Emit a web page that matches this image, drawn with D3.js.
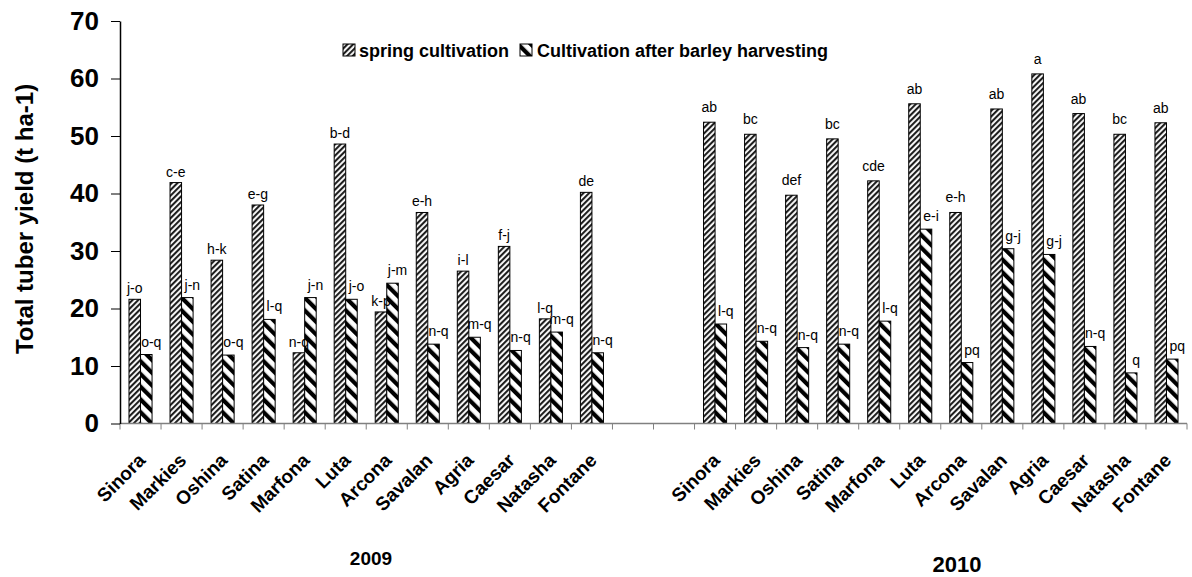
<!DOCTYPE html>
<html>
<head>
<meta charset="utf-8">
<script src="https://cdn.jsdelivr.net/npm/d3@7"></script>
<style>
  html, body { margin: 0; padding: 0; background: #fff; }
  svg { display: block; font-family: "Liberation Sans", Arial, sans-serif; }
</style>
</head>
<body>
<svg id="chart" width="1192" height="577"></svg>
<script>
// ---------- DATA ----------
const varieties = ["Sinora","Markies","Oshina","Satina","Marfona","Luta","Arcona","Savalan","Agria","Caesar","Natasha","Fontane"];
const years = ["2009","2010"];
const seriesNames = ["spring cultivation","Cultivation after barley harvesting"];

const spring2009 = [21.6, 41.9, 28.4, 38.0, 12.3, 48.6, 19.4, 36.7, 26.5, 30.8, 18.2, 40.2];
const after2009  = [12.0, 21.9, 11.9, 18.1, 21.9, 21.6, 24.4, 13.8, 15.0, 12.7, 15.9, 12.3];
const spring2010 = [52.4, 50.3, 39.7, 49.5, 42.2, 55.6, 36.7, 54.7, 60.8, 53.9, 50.3, 52.3];
const after2010  = [17.3, 14.3, 13.2, 13.8, 17.8, 33.8, 10.6, 30.4, 29.4, 13.4,  8.8, 11.2];

const springLetters2009 = ["j-o","c-e","h-k","e-g","n-q","b-d","k-p","e-h","i-l","f-j","l-q","de"];
const afterLetters2009  = ["o-q","j-n","o-q","l-q","j-n","j-o","j-m","n-q","m-q","n-q","m-q","n-q"];
const springLetters2010 = ["ab","bc","def","bc","cde","ab","e-h","ab","a","ab","bc","ab"];
const afterLetters2010  = ["l-q","n-q","n-q","n-q","l-q","e-i","pq","g-j","g-j","n-q","q","pq"];

const yTicks = [0, 10, 20, 30, 40, 50, 60, 70];
const yTitle = "Total tuber yield (t ha-1)";

// ---------- BUILD ROWS ----------
const rows = [];
varieties.forEach((v, i) => rows.push({key: "2009-" + v, name: v, year: "2009",
  vals: [{s: 0, v: spring2009[i], t: springLetters2009[i]}, {s: 1, v: after2009[i], t: afterLetters2009[i]}]}));
rows.push({key: "gap1", name: "", year: null, vals: []});
rows.push({key: "gap2", name: "", year: null, vals: []});
varieties.forEach((v, i) => rows.push({key: "2010-" + v, name: v, year: "2010",
  vals: [{s: 0, v: spring2010[i], t: springLetters2010[i]}, {s: 1, v: after2010[i], t: afterLetters2010[i]}]}));

// ---------- LAYOUT ----------
const svg = d3.select("#chart");
const plot = {left: 120, right: 1187, top: 21, bottom: 423.5};

const x = d3.scaleBand().domain(rows.map(d => d.key)).range([plot.left, plot.right]).padding(0);
const x1 = d3.scaleBand().domain([0, 1]).range([0, x.bandwidth()]).paddingInner(0).paddingOuter(0.78);
const y = d3.scaleLinear().domain([0, 70]).range([plot.bottom, plot.top]);

// ---------- PATTERNS ----------
const defs = svg.append("defs");
const p1 = defs.append("pattern").attr("id", "patSpring").attr("patternUnits", "userSpaceOnUse")
  .attr("width", 4).attr("height", 4).attr("patternTransform", "rotate(45)");
p1.append("rect").attr("width", 4).attr("height", 4).attr("fill", "#fff");
p1.append("rect").attr("x", 0).attr("width", 2.1).attr("height", 4).attr("fill", "#1e1e1e");

const p2 = defs.append("pattern").attr("id", "patAfter").attr("patternUnits", "userSpaceOnUse")
  .attr("width", 9).attr("height", 9).attr("patternTransform", "rotate(-45)");
p2.append("rect").attr("width", 9).attr("height", 9).attr("fill", "#fff");
p2.append("rect").attr("x", 0).attr("width", 4.2).attr("height", 9).attr("fill", "#000");

const fills = ["url(#patSpring)", "url(#patAfter)"];

// ---------- BARS ----------
const groups = svg.append("g").selectAll("g").data(rows).join("g")
  .attr("transform", d => `translate(${x(d.key)},0)`);

groups.selectAll("rect").data(d => d.vals).join("rect")
  .attr("x", d => x1(d.s))
  .attr("y", d => y(d.v))
  .attr("width", x1.bandwidth())
  .attr("height", d => y(0) - y(d.v))
  .attr("fill", d => fills[d.s])
  .attr("stroke", "#000")
  .attr("stroke-width", 1);

// letters above bars
groups.each(function(r) {
  const g = d3.select(this);
  g.selectAll("text.lbl").data(r.vals).join("text")
    .attr("class", "lbl")
    .attr("x", d => x1(d.s) + x1.bandwidth() / 2 + (d.s === 1 ? 5 : 0))
    .attr("y", d => y(d.v) - (d.s === 1 ? 8 : (r.year === "2010" ? 10 : 6)))
    .attr("text-anchor", "middle")
    .attr("font-size", 14)
    .attr("fill", "#000")
    .text(d => d.t);
});

// ---------- X AXIS ----------
const xAxis = svg.append("g");
xAxis.append("line")
  .attr("x1", plot.left).attr("x2", plot.right)
  .attr("y1", y(0)).attr("y2", y(0))
  .attr("stroke", "#808080").attr("stroke-width", 1.5);
const bounds = rows.map(d => x(d.key)).concat([plot.right]);
xAxis.selectAll("line.tk").data(bounds).join("line")
  .attr("class", "tk")
  .attr("x1", d => d).attr("x2", d => d)
  .attr("y1", y(0)).attr("y2", y(0) + 6)
  .attr("stroke", "#808080").attr("stroke-width", 1);

xAxis.selectAll("text.cat").data(rows.filter(d => d.name)).join("text")
  .attr("class", "cat")
  .attr("transform", d => `translate(${x(d.key) + x.bandwidth() / 2 + 6},${y(0) + 38}) rotate(-45)`)
  .attr("text-anchor", "end")
  .attr("font-size", 19)
  .attr("font-weight", "bold")
  .text(d => d.name);

// year labels
const yearPos = {"2009": {x: 371, y: 565, size: 19}, "2010": {x: 957, y: 572, size: 22}};
svg.selectAll("text.year").data(years).join("text")
  .attr("class", "year")
  .attr("x", d => yearPos[d].x)
  .attr("y", d => yearPos[d].y)
  .attr("text-anchor", "middle")
  .attr("font-weight", "bold")
  .attr("font-size", d => yearPos[d].size)
  .text(d => d);

// ---------- Y AXIS ----------
const yAxis = svg.append("g").attr("transform", `translate(${plot.left},0)`)
  .call(d3.axisLeft(y).tickValues(yTicks).tickSize(9).tickPadding(12).tickSizeOuter(0));
yAxis.select(".domain").attr("stroke", "#000").attr("stroke-width", 1.5);
yAxis.selectAll(".tick line").attr("stroke", "#000").attr("stroke-width", 1);
yAxis.selectAll(".tick text")
  .attr("font-family", "'Liberation Sans', Arial, sans-serif")
  .attr("font-size", 26).attr("font-weight", "bold").attr("fill", "#000");

svg.append("text")
  .attr("transform", "translate(33,219) rotate(-90)")
  .attr("text-anchor", "middle")
  .attr("font-size", 24)
  .attr("font-weight", "bold")
  .text(yTitle);

// ---------- LEGEND ----------
const legendItems = [
  {name: seriesNames[0], fill: fills[0], sx: 343, tx: 359},
  {name: seriesNames[1], fill: fills[1], sx: 520, tx: 537}
];
const lg = svg.append("g").selectAll("g").data(legendItems).join("g");
lg.append("rect").attr("x", d => d.sx).attr("y", 44).attr("width", 12).attr("height", 12)
  .attr("fill", d => d.fill).attr("stroke", "#000").attr("stroke-width", 1);
lg.append("text").attr("x", d => d.tx).attr("y", 57)
  .attr("font-size", 18).attr("font-weight", "bold").text(d => d.name);
</script>
</body>
</html>
